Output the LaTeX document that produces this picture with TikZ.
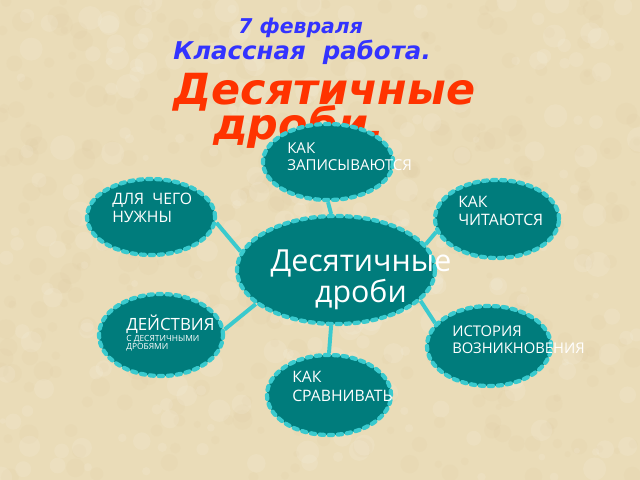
\documentclass[tikz,border=0pt]{standalone}
\usepackage{fontspec}
\setmainfont{Open Sans}
\newfontfamily\headfont{DejaVu Sans}
\usetikzlibrary{shapes.geometric}
\definecolor{parchment}{RGB}{234,220,184}
\definecolor{parchdark}{RGB}{214,190,142}
\definecolor{tealfill}{RGB}{0,124,124}
\definecolor{beadcyan}{RGB}{58,202,206}
\definecolor{dateblue}{RGB}{51,51,255}
\definecolor{titlered}{RGB}{255,51,0}
\pgfdeclarelayer{paper}
\pgfdeclarelayer{back}
\pgfsetlayers{paper,back,main}

\begin{document}
\begin{tikzpicture}
[
  x=0.025cm,
  y=-0.025cm,
	bead/.style={ellipse,fill=tealfill,draw=beadcyan,line width=3pt,line cap=round,dash pattern=on 3pt off 3.4pt,inner sep=0pt},
	link/.style={draw=beadcyan,line width=2.8pt},
	lbl/.style={anchor=north west,text=white,align=left,inner sep=0pt},
	head/.style={anchor=base west,inner sep=0pt}
]
\tikzstyle{every node}=[font=\fontsize{10.7}{12.5}\selectfont]
\useasboundingbox (0,0) rectangle (640,480);

% paper
\begin{pgfonlayer}{paper}
\begin{scope}
\clip (0,0) rectangle (640,480);
\fill[parchment] (0,0) rectangle (640,480);
\pgfmathsetseed{11}
\foreach \i in {1,...,400}
  \fill[parchdark,opacity=0.08] (640*rnd,480*rnd) circle[radius=2pt+6pt*rnd];
\foreach \i in {1,...,300}
  \fill[white,opacity=0.1] (640*rnd,480*rnd) circle[radius=2pt+7pt*rnd];
\end{scope}
\end{pgfonlayer}

% title
\node[head,text=dateblue,font=\headfont\bfseries\itshape\fontsize{14.5}{16}\selectfont] (date) at (238,33) {7 февраля};
\node[head,text=dateblue,font=\headfont\bfseries\itshape\fontsize{17.4}{18}\selectfont] (work) at (173,59) {Классная\ \ работа.};
\node[head,text=titlered,font=\headfont\bfseries\itshape\fontsize{30.5}{32}\selectfont] (topic1) at (173,104) {Десятичные};
\node[head,text=titlered,font=\headfont\bfseries\itshape\fontsize{30.5}{32}\selectfont] (topic2) at (213,139) {дроби.};

% ellipses
\node[bead,minimum width=4.95cm,minimum height=2.7cm] (core) at (336,270) {};
\node[bead,minimum width=3.25cm,minimum height=1.9cm] (write) at (328,162) {};
\node[bead,minimum width=3.2cm,minimum height=1.9cm] (need) at (151,217) {};
\node[bead,minimum width=3.1cm,minimum height=1.95cm] (read) at (497,219) {};
\node[bead,minimum width=3.1cm,minimum height=2.05cm] (ops) at (161,335) {};
\node[bead,minimum width=3.1cm,minimum height=2cm] (history) at (489,346) {};
\node[bead,minimum width=3.1cm,minimum height=2cm] (compare) at (329,395) {};

% spokes
\begin{pgfonlayer}{back}
\draw[link] (core.95) -- (write.south);
\draw[link] (core.169) -- (need.-5);
\draw[link] (core.16) -- (read.192);
\draw[link] (core.203) -- (ops.5);
\draw[link] (core.-20) -- (history.157);
\draw[link] (core.-95) -- (compare.north);
\end{pgfonlayer}

% labels
\node[lbl,anchor=north,align=center,font=\fontsize{21.6}{20.5}\selectfont] (corelbl) at (361,250) {Десятичные\\дроби};
\node[lbl] (writelbl) at (287,142) {КАК\\ЗАПИСЫВАЮТСЯ};
\node[lbl,font=\fontsize{11.2}{12.8}\selectfont] (needlbl) at (112,193) {ДЛЯ\ \ ЧЕГО\\НУЖНЫ};
\node[lbl,font=\fontsize{11.2}{12.8}\selectfont] (readlbl) at (458,196) {КАК\\ЧИТАЮТСЯ};
\node[lbl,font=\fontsize{12}{12}\selectfont] (opslbl) at (126,315) {ДЕЙСТВИЯ};
\node[lbl,font=\fontsize{6}{5.7}\selectfont] (opssub) at (126,335) {С ДЕСЯТИЧНЫМИ\\ДРОБЯМИ};
\node[lbl,font=\fontsize{10.5}{11.4}\selectfont] (historylbl) at (452,326) {ИСТОРИЯ\\ВОЗНИКНОВЕНИЯ};
\node[lbl,font=\fontsize{11.2}{13.5}\selectfont] (comparelbl) at (292,371) {КАК\\СРАВНИВАТЬ};

\end{tikzpicture}
\end{document}
